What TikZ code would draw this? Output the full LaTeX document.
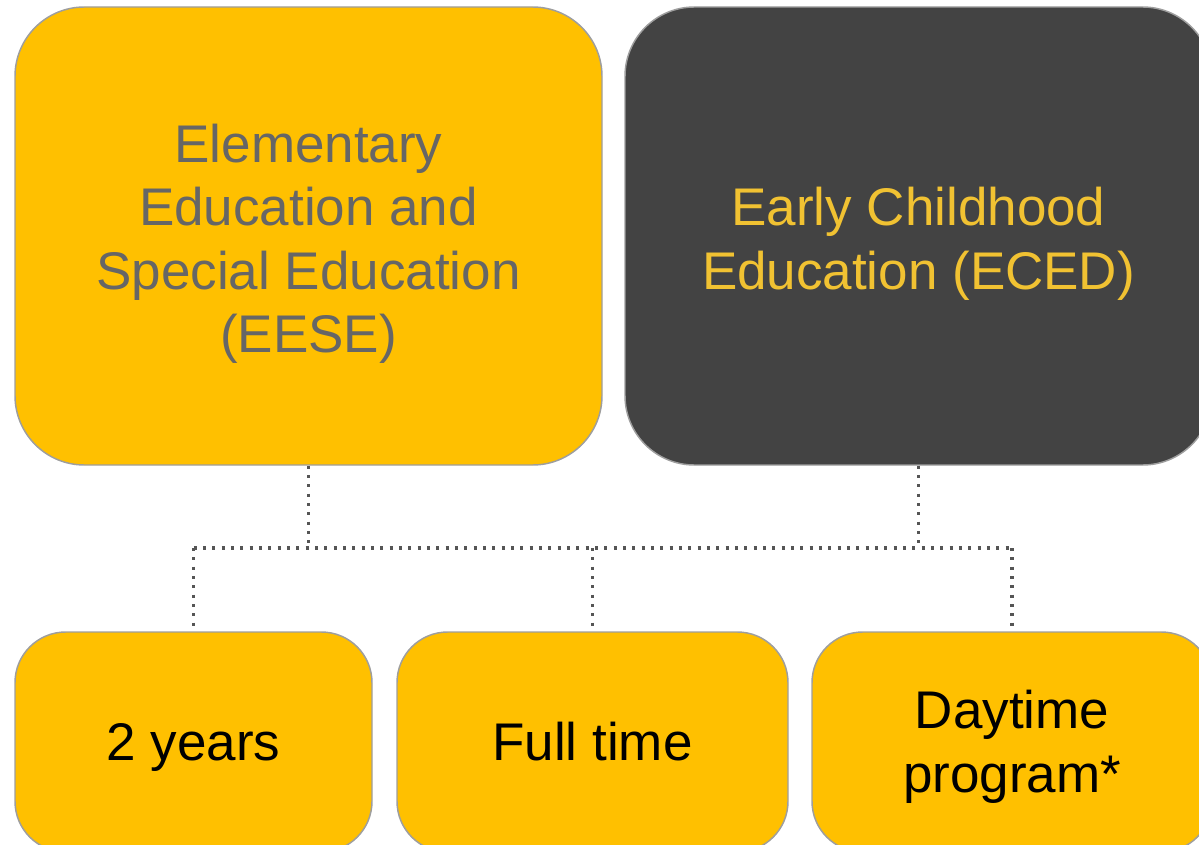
\documentclass[tikz,border=0pt]{standalone}
\usepackage{fontspec}
\setmainfont{Liberation Sans}
\usetikzlibrary{positioning}
\definecolor{gold}{HTML}{FFC000}
\definecolor{charcoal}{HTML}{434343}
\definecolor{slate}{HTML}{666666}
\definecolor{mustard}{HTML}{F1C232}
\definecolor{rim}{HTML}{9E9E9E}
\definecolor{dotgray}{HTML}{555555}
\begin{document}
\begin{tikzpicture}[x=0.75pt, y=-0.75pt,
  bigbox/.style={draw=rim, line width=1.1pt, rounded corners=52pt, minimum width=440.25pt, minimum height=343.5pt},
  smallbox/.style={draw=rim, fill=gold, line width=1.1pt, rounded corners=38pt, minimum height=165pt},
  boxtext/.style={align=center, font=\fontsize{39.75}{47.6}\selectfont},
  link/.style={draw=dotgray, line width=2.3pt, dash pattern=on 2.3pt off 4.7pt}]
\useasboundingbox (0,0) rectangle (1199,845);
\node[bigbox, fill=gold, label={[boxtext, text=slate, yshift=-6pt]center:Elementary\\Education and\\Special Education\\(EESE)}] (eese) at (308.5,236) {};
\node[bigbox, fill=charcoal, label={[boxtext, text=mustard, yshift=-6pt]center:Early Childhood\\Education (ECED)}] (eced) at (918.5,236) {};
\node[smallbox, minimum width=267.75pt, label={[boxtext, yshift=-3.75pt]center:2 years}] (yrs) at (193.5,742) {};
\node[smallbox, minimum width=293.25pt, label={[boxtext]center:Full time}] (ft) at (592.5,742) {};
\node[smallbox, minimum width=300pt, label={[boxtext, yshift=-3.75pt]center:Daytime\\program*}] (day) at (1012,742) {};
\coordinate (bus) at (0,548);
\draw[link] (eese.south) -- (eese.south |- bus);
\draw[link] (eced.south) -- (eced.south |- bus);
\draw[link] (yrs.north |- bus) -- (day.north |- bus);
\draw[link] (yrs.north |- bus) -- (yrs.north);
\draw[link] (ft.north |- bus) -- (ft.north);
\draw[link] (day.north |- bus) -- (day.north);
\end{tikzpicture}
\end{document}
